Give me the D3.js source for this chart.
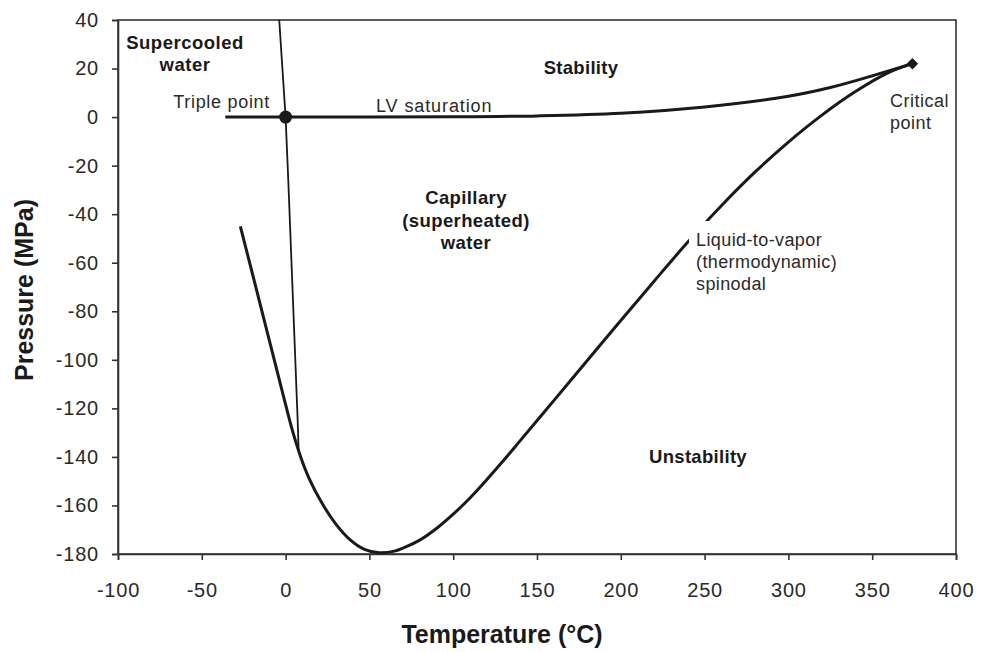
<!DOCTYPE html>
<html>
<head>
<meta charset="utf-8">
<script src="https://cdn.jsdelivr.net/npm/d3@7"></script>
<style>
  html, body { margin: 0; padding: 0; background: #fff; }
  svg { display: block; font-family: "Liberation Sans", Arial, sans-serif; }
</style>
</head>
<body>
<svg id="chart" width="982" height="652"></svg>
<script>
// ---- data (temperature °C, pressure MPa) ----
const xTicks = [-100, -50, 0, 50, 100, 150, 200, 250, 300, 350, 400];
const yTicks = [40, 20, 0, -20, -40, -60, -80, -100, -120, -140, -160, -180];

const spinodal = [
  [-27, -45], [-13, -83], [-2, -113], [4, -129], [9, -140], [14, -148.8],
  [21.5, -158.8], [30, -167.7], [38.4, -174.1], [47, -178.1], [56, -179.5],
  [65, -178.8], [72, -177.0], [80, -174.3], [90, -169.5], [100, -163.6],
  [110, -156.9], [120, -149.4], [130, -141.5], [140, -133.3], [160, -116.8],
  [180, -100.3], [200, -83.8], [220, -67.5], [240, -51.5], [260, -36.5],
  [280, -22.7], [300, -10.3], [320, 0.8], [340, 10.5], [360, 18.4], [374, 22]
];
const lvSaturation = [
  [-36, 0], [0, 0], [50, 0.02], [100, 0.1], [150, 0.5], [200, 1.6],
  [250, 4.2], [300, 8.6], [325, 12.2], [350, 17], [374, 22]
];
const meltingLine = [[-3.8, 40], [0, 0], [1.6, -26], [7.2, -125], [7.8, -138]];
const triplePoint = [0, 0];
const criticalPoint = [374, 22];

(function () {
// ---- layout ----
const svg = d3.select("#chart");
const mLeft = 118, mRight = 956, mTop = 20, mBottom = 554;
const x = d3.scaleLinear().domain([-100, 400]).range([mLeft, mRight]);
const y = d3.scaleLinear().domain([-180, 40]).range([mBottom, mTop]);
const ink = "#1a1a1a";

// plot frame
svg.append("rect")
  .attr("x", mLeft).attr("y", mTop)
  .attr("width", mRight - mLeft).attr("height", mBottom - mTop)
  .attr("fill", "none").attr("stroke", "#333").attr("stroke-width", 1.6);

// axes
const fmt = d => String(d);
const xAxis = svg.append("g").attr("transform", `translate(0,${mBottom})`)
  .call(d3.axisBottom(x).tickValues(xTicks).tickSize(6).tickPadding(23).tickFormat(fmt));
const yAxis = svg.append("g").attr("transform", `translate(${mLeft},0)`)
  .call(d3.axisLeft(y).tickValues(yTicks).tickSize(6).tickPadding(13).tickFormat(fmt));
[xAxis, yAxis].forEach(g => {
  g.select(".domain").attr("stroke", "#333").attr("stroke-width", 1.6);
  g.selectAll(".tick line").attr("stroke", "#333").attr("stroke-width", 1.6);
  g.selectAll(".tick text")
    .attr("fill", "#2a2a2a")
    .style("font-size", "20px")
    .style("letter-spacing", "0.8px")
    .style("font-family", '"Liberation Sans", Arial, sans-serif');
});

// axis titles
svg.append("text")
  .attr("x", 502).attr("y", 643)
  .attr("text-anchor", "middle")
  .style("font-size", "25px").style("font-weight", "bold")
  .attr("fill", ink)
  .text("Temperature (°C)");
svg.append("text")
  .attr("transform", "translate(33,290) rotate(-90)")
  .attr("text-anchor", "middle")
  .style("font-size", "25px").style("font-weight", "bold")
  .attr("fill", ink)
  .text("Pressure (MPa)");

// curves
const line = d3.line().x(d => x(d[0])).y(d => y(d[1]));
const smooth = d3.line().x(d => x(d[0])).y(d => y(d[1])).curve(d3.curveCatmullRom.alpha(0.5));

svg.append("path").datum(meltingLine)
  .attr("d", line).attr("fill", "none").attr("stroke", ink).attr("stroke-width", 1.8);
svg.append("path").datum(lvSaturation)
  .attr("d", smooth).attr("fill", "none").attr("stroke", ink).attr("stroke-width", 3);
svg.append("path").datum(spinodal)
  .attr("d", smooth).attr("fill", "none").attr("stroke", ink).attr("stroke-width", 3);

// markers
svg.append("circle")
  .attr("cx", x(triplePoint[0])).attr("cy", y(triplePoint[1])).attr("r", 6.5)
  .attr("fill", ink);
svg.append("path")
  .attr("transform", `translate(${x(criticalPoint[0])},${y(criticalPoint[1])})`)
  .attr("d", d3.symbol().type(d3.symbolDiamond2).size(85))
  .attr("fill", ink);

// labels
function label(lines, px, py, opts) {
  const t = svg.append("text")
    .attr("x", px).attr("y", py)
    .attr("text-anchor", opts.anchor || "start")
    .style("font-size", (opts.size || 18) + "px")
    .style("font-weight", opts.bold ? "bold" : "normal")
    .style("letter-spacing", (opts.ls || 0) + "px")
    .attr("fill", opts.bold ? ink : "#2a2a2a");
  lines.forEach((s, i) => {
    t.append("tspan").attr("x", px).attr("dy", i === 0 ? 0 : (opts.lh || 22)).text(s);
  });
  return t;
}

// white label box that interrupts the spinodal
svg.append("rect")
  .attr("x", 689).attr("y", 221).attr("width", 125).attr("height", 75)
  .attr("fill", "#fff");

label(["Supercooled", "water"], 185, 49, { bold: true, size: 18.5, anchor: "middle", ls: 0.5, lh: 22 });
label(["Triple point"], 270, 108, { size: 18, anchor: "end", ls: 0.7 });
label(["LV saturation"], 376, 112, { size: 18, ls: 0.9 });
label(["Stability"], 581, 74, { bold: true, size: 18.5, anchor: "middle", ls: 0.3 });
label(["Critical", "point"], 890, 107, { size: 18, ls: 0.5, lh: 21.5 });
label(["Capillary", "(superheated)", "water"], 466, 204, { bold: true, size: 18.5, anchor: "middle", ls: 0.4, lh: 22.5 });
label(["Liquid-to-vapor", "(thermodynamic)", "spinodal"], 696, 246, { size: 18, ls: 0.4, lh: 22 });
label(["Unstability"], 698, 463, { bold: true, size: 18.5, anchor: "middle", ls: 0.3 });
})();
</script>
</body>
</html>
